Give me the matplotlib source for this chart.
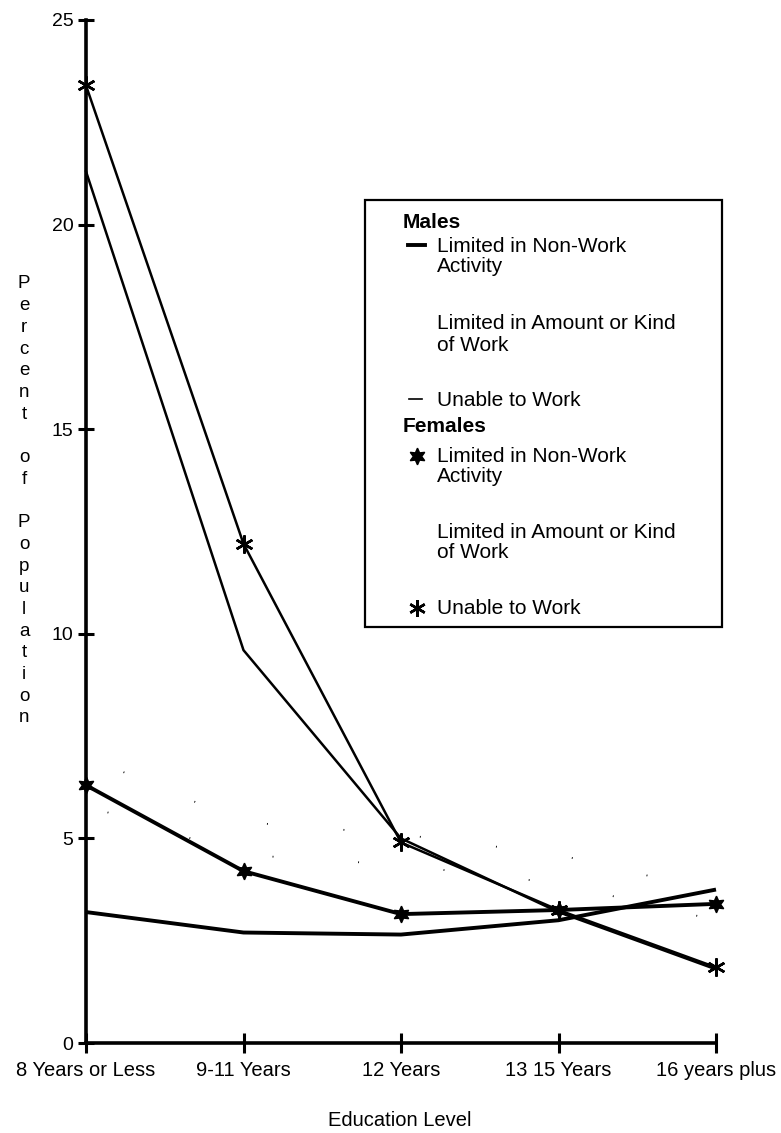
import matplotlib
matplotlib.use("Agg")
import matplotlib.pyplot as plt
from matplotlib.lines import Line2D
from matplotlib.patches import Rectangle

plt.rcParams['font.family'] = ['Liberation Sans', 'DejaVu Sans']

# data (percent of population)
education = ["8 Years or Less", "9-11 Years", "12 Years", "13 15 Years", "16 years plus"]
male_nonwork = [3.2, 2.7, 2.65, 3.0, 3.75]
male_amount = [7.0, 5.4, 5.1, 4.6, 3.7]
male_unable = [21.3, 9.6, 5.0, 3.2, 1.8]
female_nonwork = [6.3, 4.2, 3.15, 3.25, 3.4]
female_amount = [5.8, 4.6, 4.35, 3.9, 3.0]
female_unable = [23.4, 12.2, 4.9, 3.25, 1.85]
y_ticks = [0, 5, 10, 15, 20, 25]

W, H = 781, 1133
fig = plt.figure(figsize=(W / 100, H / 100), dpi=100)
fig.patch.set_facecolor('white')


def fx(px):
    return px / W


def fy(py):
    return 1 - py / H


ax = fig.add_axes([fx(86), fy(1043), (716 - 86) / W, (1043 - 20) / H])
xs = list(range(len(education)))

star6 = (6, 1, 0)
aster = (6, 2, 0)

# faded "amount or kind of work" lines only survive as specks in the scan
ax.plot(xs, male_amount, color='black', lw=1.3, ls=(20, (0.5, 42)), clip_on=False)
ax.plot(xs, female_amount, color='black', lw=1.3, ls=(35, (0.5, 47)), clip_on=False)

ax.plot(xs, male_unable, color='black', lw=1.8, clip_on=False)
ax.plot(xs, female_unable, color='black', lw=1.8, marker=aster, ms=13, mew=1.8,
        clip_on=False)
ax.plot(xs, male_nonwork, color='black', lw=2.8, solid_capstyle='butt', clip_on=False)
ax.plot(xs, female_nonwork, color='black', lw=2.8, marker=star6, ms=12,
        mew=1.0, clip_on=False)

ax.set_xlim(0, 4)
ax.set_ylim(0, 25)
for side in ['top', 'right']:
    ax.spines[side].set_visible(False)
for side in ['left', 'bottom']:
    ax.spines[side].set_linewidth(2.6)

ax.set_xticks(xs)
ax.set_xticklabels(education)
ax.set_yticks(y_ticks)
ax.tick_params(axis='x', direction='inout', length=14, width=2.2, labelsize=14.5, pad=6)
ax.tick_params(axis='y', direction='inout', length=12, width=2.2, labelsize=14, pad=3)

# stacked y label
ylab = "Percent of Population"
for i, ch in enumerate(ylab):
    fig.text(fx(24), fy(284 + i * 21.7), ch, ha='center', va='center', fontsize=13.5)

fig.text(fx(400), fy(1121), "Education Level", ha='center', va='center', fontsize=14.5)

# legend box drawn by hand to follow the original layout
fig.patches.append(Rectangle((fx(365), fy(627)), (722 - 365) / W, (627 - 200) / H,
                             transform=fig.transFigure, fill=False, lw=1.6,
                             edgecolor='black'))

legend_rows = [
    ("Males", 403, 222, True),
    ("Limited in Non-Work", 437, 246, False),
    ("Activity", 437, 267, False),
    ("Limited in Amount or Kind", 437, 324, False),
    ("of Work", 437, 346, False),
    ("Unable to Work", 437, 400, False),
    ("Females", 403, 426, True),
    ("Limited in Non-Work", 437, 457, False),
    ("Activity", 437, 477, False),
    ("Limited in Amount or Kind", 437, 532, False),
    ("of Work", 437, 553, False),
    ("Unable to Work", 437, 608, False),
]
for label, x, y, bold in legend_rows:
    fig.text(fx(x), fy(y), label, ha='left', va='center', fontsize=15,
             fontweight='bold' if bold else 'normal')

fig.lines.append(Line2D([fx(408), fx(425)], [fy(245), fy(245)], transform=fig.transFigure,
                        color='black', lw=2.8))
fig.lines.append(Line2D([fx(409), fx(422)], [fy(399), fy(399)], transform=fig.transFigure,
                        color='black', lw=1.2))
fig.lines.append(Line2D([fx(417)], [fy(456)], transform=fig.transFigure, color='black',
                        marker=star6, ms=12, ls='none'))
fig.lines.append(Line2D([fx(417)], [fy(608)], transform=fig.transFigure, color='black',
                        marker=aster, ms=12, mew=1.8, ls='none'))

fig.savefig("out.png", dpi=100)
